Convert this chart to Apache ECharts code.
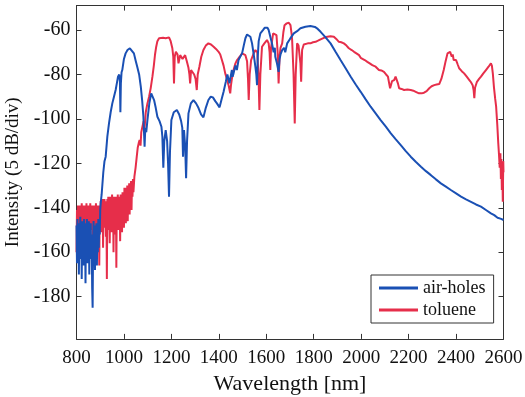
<!DOCTYPE html>
<html>
<head>
<meta charset="utf-8">
<script src="https://cdn.jsdelivr.net/npm/echarts@6/dist/echarts.min.js"></script>
<style>html,body{margin:0;padding:0;background:#fff}#c{width:525px;height:397px}</style>
</head>
<body>
<div id="c"></div>
<script>
const seriesNames = ['air-holes', 'toluene'];
const xTicks = [800, 1000, 1200, 1400, 1600, 1800, 2000, 2200, 2400, 2600];
const yTicks = [-180, -160, -140, -120, -100, -80, -60];

const airHoles = [
[800,-148],[802,-165],[804,-145],[806,-160],[808,-147],[810,-170],[812,-150],[814,-158],[816,-144],[818,-163],
[820,-149],[822,-172],[824,-146],[826,-157],[828,-148],[830,-166],[832,-145],[834,-160],[836,-150],[838,-174],
[840,-147],[842,-158],[844,-145],[846,-165],[848,-149],[850,-160],[852,-146],[854,-170],[856,-150],[858,-158],
[860,-147],[862,-163],[864,-152],[866,-176],[868,-185],[870,-156],[872,-146],[874,-162],[876,-148],[878,-168],
[880,-150],[882,-158],[884,-147],[886,-166],[888,-150],[890,-160],[892,-145],[894,-158],[896,-146],[898,-152],
[900,-141],[902,-138],[904,-136],[906,-134],[913,-124],[918,-119],[923,-117],[930,-108],
[937,-102],[944,-97],[951,-93],[958,-90],[965,-87],[970,-84],[975,-81],[980,-80],[983,-83],[985,-97],
[987,-84],[990,-79],[993,-78],[1000,-73],[1007,-70.5],[1015,-69],[1025,-68.2],[1033,-69],[1042,-70.5],[1050,-74],
[1056,-76.5],[1064,-80],[1071,-85.5],[1077,-92],[1082,-99],[1087,-112.5],[1090,-104],[1094,-106],[1099,-100.5],[1107,-93],
[1115,-88.5],[1121,-89],[1127,-91.5],[1134,-95],[1141,-99],[1150,-101],[1158,-103.5],[1162,-108],[1166,-122],[1170,-110],
[1176,-105],[1182,-110],[1186,-120],[1190,-135],[1194,-115],[1200,-100.5],[1210,-97],[1223,-96],[1233,-98],[1241,-101],
[1246,-104],[1249,-117],[1253,-105],[1258,-112],[1262,-126.7],[1266,-110],[1272,-97.5],[1282,-93],[1293,-91.5],[1304,-93],
[1314,-95],[1325,-98],[1335,-99.3],[1345,-95],[1356,-91.5],[1366,-90],[1375,-90.3],[1385,-92],[1392,-93],[1403,-94.8],
[1412,-91],[1420,-87.8],[1430,-83],[1436,-80],[1441,-79.5],[1445,-84],[1448,-82],[1455,-78],[1458,-81],[1462,-79.5],
[1470,-76],[1476,-78],[1483,-73.5],[1490,-72],[1498,-70.5],[1505,-67],[1512,-63.7],[1519,-62],[1526,-61.5],[1533,-63],
[1540,-66],[1547,-71],[1554,-76.5],[1558,-80],[1561,-84.8],[1564,-72],[1568,-65],[1575,-61.5],[1586,-60],[1593,-59],
[1600,-58.2],[1605,-59],[1610,-60],[1617,-63],[1624,-66],[1631,-70],[1636,-68],[1638,-72],[1645,-75],[1652,-78.8],
[1656,-73],[1660,-71],[1667,-69],[1675,-68],[1680,-70],[1688,-66],[1700,-64],[1716,-61.5],[1730,-60.5],[1744,-59.2],
[1765,-58.5],[1786,-58.2],[1794,-58.1],[1805,-58.6],[1817,-59.5],[1829,-60.8],[1850,-63.3],[1871,-66],[1892,-69.8],[1913,-73.5],
[1935,-77.3],[1956,-81],[1977,-84.5],[1998,-87.8],[2019,-91.2],[2040,-94.5],[2061,-97.5],[2082,-100.5],[2104,-103.5],[2125,-106.5],
[2146,-109.2],[2167,-111.8],[2188,-114.5],[2209,-117],[2230,-119.3],[2252,-121.5],[2273,-123.5],[2294,-125.3],[2315,-127.2],[2336,-129],
[2357,-130.5],[2378,-132],[2400,-133.5],[2421,-135],[2442,-136.2],[2463,-137.3],[2484,-138.5],[2505,-139.5],[2526,-141],[2547,-142.5],
[2561,-143.3],[2575,-144.5],[2590,-145],[2600,-145.5]
];

const toluene = [
[800,-160],[802,-141],[804,-152],[806,-139],[808,-149],[810,-140],[812,-156],[814,-139],[816,-147],[818,-141],
[820,-151],[822,-138],[824,-146],[826,-140],[828,-158],[830,-139],[832,-148],[834,-141],[836,-150],[838,-139],
[840,-145],[842,-138],[844,-162],[846,-140],[848,-149],[850,-139],[852,-146],[854,-140],[856,-153],[858,-138],
[860,-147],[862,-141],[864,-150],[866,-139],[868,-157],[870,-140],[872,-148],[874,-139],[876,-151],[878,-140],
[880,-146],[882,-138],[884,-163],[886,-140],[888,-149],[890,-139],[892,-152],[894,-141],[896,-166],[898,-139],
[900,-148],[902,-137],[904,-151],[906,-138],[908,-146],[910,-136],[912,-158],[914,-137],[916,-149],[918,-136],
[920,-147],[922,-138],[924,-153],[926,-137],[928,-172],[930,-136],[932,-150],[934,-135],[936,-147],[938,-137],
[940,-156],[942,-135],[944,-148],[946,-136],[948,-151],[950,-134],[952,-146],[954,-136],[956,-160],[958,-135],
[960,-149],[962,-137],[964,-152],[966,-135],[968,-167],[970,-136],[972,-148],[974,-134],[976,-150],[978,-136],
[980,-146],[982,-135],[984,-155],[986,-134],[988,-147],[990,-135],[992,-151],[994,-133],[996,-145],[998,-134],
[1000,-149],[1002,-131],[1004,-144],[1006,-132],[1008,-147],[1010,-131],[1012,-142],[1014,-130],[1016,-146],[1018,-131],
[1020,-140],[1022,-129],[1024,-143],[1026,-130],[1028,-138],[1030,-128],[1032,-141],[1034,-128],[1036,-135],[1038,-127],
[1040,-133],[1044,-126],[1049,-122],[1054,-117],[1058,-113],[1062,-111],[1066,-109.5],[1070,-112],[1073,-106],[1077,-104],
[1083,-101],[1087,-104],[1092,-97],[1099,-93],[1106,-90],[1113,-86],[1120,-81],[1126,-76],[1131,-71],[1136,-67.5],
[1141,-65],[1148,-63.7],[1155,-63.3],[1165,-63.5],[1176,-63.7],[1183,-63],[1190,-63.3],[1197,-65],[1204,-68.2],[1208,-72],
[1211,-84],[1214,-72],[1219,-69.8],[1226,-71],[1230,-75],[1233,-75],[1237,-71.3],[1242,-70.5],[1247,-73],[1251,-73.5],
[1258,-71.3],[1265,-74],[1272,-77],[1276,-80],[1279,-84],[1283,-78],[1290,-78.8],[1296,-80],[1302,-82],[1307,-87],
[1311,-80],[1318,-76.5],[1326,-72],[1335,-69],[1345,-67],[1356,-66],[1367,-66.5],[1378,-67.5],[1388,-68.5],[1399,-69.8],
[1406,-71],[1413,-73.5],[1420,-76],[1427,-79.5],[1434,-82],[1441,-84.8],[1448,-88.5],[1451,-85],[1455,-82],[1462,-78],
[1470,-75],[1477,-73.5],[1488,-72],[1498,-70.5],[1505,-70.5],[1512,-71.3],[1519,-74],[1523,-82],[1526,-91.5],[1530,-80],
[1536,-73.5],[1545,-71],[1554,-69],[1562,-70],[1567,-80],[1571,-96],[1575,-80],[1582,-67.5],[1592,-66],[1603,-64.5],
[1610,-66],[1614,-70],[1617,-78],[1620,-68],[1629,-61.5],[1636,-62],[1643,-62.3],[1648,-70],[1652,-84],[1656,-72],
[1660,-68],[1667,-66],[1672,-61],[1677,-57.8],[1686,-57],[1695,-56.7],[1702,-57.8],[1707,-62],[1709,-64.5],[1715,-80],
[1720,-102],[1724,-80],[1730,-66],[1736,-67],[1741,-67.5],[1744,-75],[1747,-83.3],[1751,-69],[1758,-66.5],[1765,-66],
[1775,-66],[1786,-66],[1797,-65.5],[1808,-65.3],[1818,-64.8],[1829,-64.2],[1843,-63.5],[1857,-63],[1871,-62.8],[1885,-63],
[1895,-64],[1906,-65.3],[1916,-65.5],[1927,-66],[1938,-67],[1948,-68.2],[1960,-69],[1970,-69.8],[1980,-70.5],[1991,-71.3],
[1998,-72.5],[2005,-72],[2015,-73.5],[2026,-74.3],[2036,-75],[2047,-75.8],[2054,-75.3],[2061,-76.5],[2068,-77],[2075,-78],
[2085,-78.2],[2096,-78.8],[2105,-80],[2113,-81],[2118,-84],[2122,-86.2],[2130,-83],[2139,-82.5],[2145,-81],[2150,-81.7],
[2155,-84],[2160,-86.2],[2170,-86.5],[2181,-87],[2195,-86.8],[2209,-87],[2220,-87.3],[2230,-87.8],[2237,-87.5],[2244,-88.5],
[2255,-88.5],[2265,-88.2],[2276,-87.5],[2287,-86.2],[2297,-85.3],[2308,-84.8],[2318,-84.5],[2329,-84.3],[2338,-82],[2348,-78],
[2356,-74],[2364,-70.5],[2370,-70],[2375,-69.8],[2382,-72],[2386,-71],[2390,-73.5],[2395,-74],[2400,-73.5],[2407,-75.5],
[2413,-77.2],[2424,-78.5],[2434,-79.5],[2445,-81],[2456,-82.5],[2463,-83.5],[2470,-84.8],[2474,-87],[2477,-90.7],[2480,-86],
[2488,-83.3],[2497,-82],[2505,-81],[2515,-79.5],[2526,-78],[2537,-76.5],[2547,-75],[2551,-76],[2555,-79.5],[2560,-86],
[2565,-91],[2569,-94.5],[2574,-103],[2578,-111],[2581,-116],[2584,-122],[2587,-115.5],[2589,-127],[2591,-118],[2593,-132],
[2595,-120],[2597,-137.3],[2599,-119],[2600,-124]
];

const FONT = '"Liberation Serif", serif';
const AXC = '#333';
const chart = echarts.init(document.getElementById('c'), null, {renderer: 'canvas'});

const baseX = {
  type: 'value', min: xTicks[0], max: xTicks[xTicks.length - 1], interval: 200,
  splitLine: {show: false},
  axisLine: {show: true, onZero: false, lineStyle: {color: AXC, width: 1}},
  axisTick: {show: true, inside: true, length: 5, lineStyle: {color: AXC}}
};
const baseY = {
  type: 'value', min: -199, max: -49,
  splitLine: {show: false},
  axisLine: {show: true, onZero: false, lineStyle: {color: AXC, width: 1}},
  axisTick: {show: true, inside: true, length: 5, lineStyle: {color: AXC}, customValues: yTicks}
};

chart.setOption({
  animation: false,
  grid: {left: 76.5, right: 21.5, top: 5.6, bottom: 58.1, containLabel: false, outerBoundsMode: 'none'},
  xAxis: [
    Object.assign({}, baseX, {
      position: 'bottom',
      axisLabel: {fontFamily: FONT, fontSize: 19, color: '#111', margin: 10,
                  formatter: function (v) { return String(v); }},
      name: 'Wavelength [nm]', nameLocation: 'middle', nameGap: 30,
      nameTextStyle: {fontFamily: FONT, fontSize: 22, color: '#111'}
    }),
    Object.assign({}, baseX, {position: 'top', axisLabel: {show: false}})
  ],
  yAxis: [
    Object.assign({}, baseY, {
      position: 'left',
      axisLabel: {fontFamily: FONT, fontSize: 20, color: '#111', margin: 6, customValues: yTicks,
                  formatter: function (v) { return String(v); }},
      name: 'Intensity (5 dB/div)', nameLocation: 'middle', nameGap: 40,
      nameTextStyle: {fontFamily: FONT, fontSize: 19, color: '#111'}
    }),
    Object.assign({}, baseY, {position: 'right', axisLabel: {show: false}})
  ],
  legend: {
    data: seriesNames,
    orient: 'vertical', left: 371, top: 275,
    backgroundColor: '#fff',
    borderColor: '#333', borderWidth: 1,
    padding: [4, 8, 4, 8],
    itemGap: 4, itemWidth: 39, itemHeight: 3, icon: 'rect',
    textStyle: {fontFamily: FONT, fontSize: 18, color: '#111'}
  },
  series: [
    {name: seriesNames[1], type: 'line', data: toluene, showSymbol: false,
     lineStyle: {color: '#e62e4a', width: 2}, itemStyle: {color: '#e62e4a'}, z: 2},
    {name: seriesNames[0], type: 'line', data: airHoles, showSymbol: false,
     lineStyle: {color: '#1a50b4', width: 2}, itemStyle: {color: '#1a50b4'}, z: 3}
  ]
});
</script>
</body>
</html>
